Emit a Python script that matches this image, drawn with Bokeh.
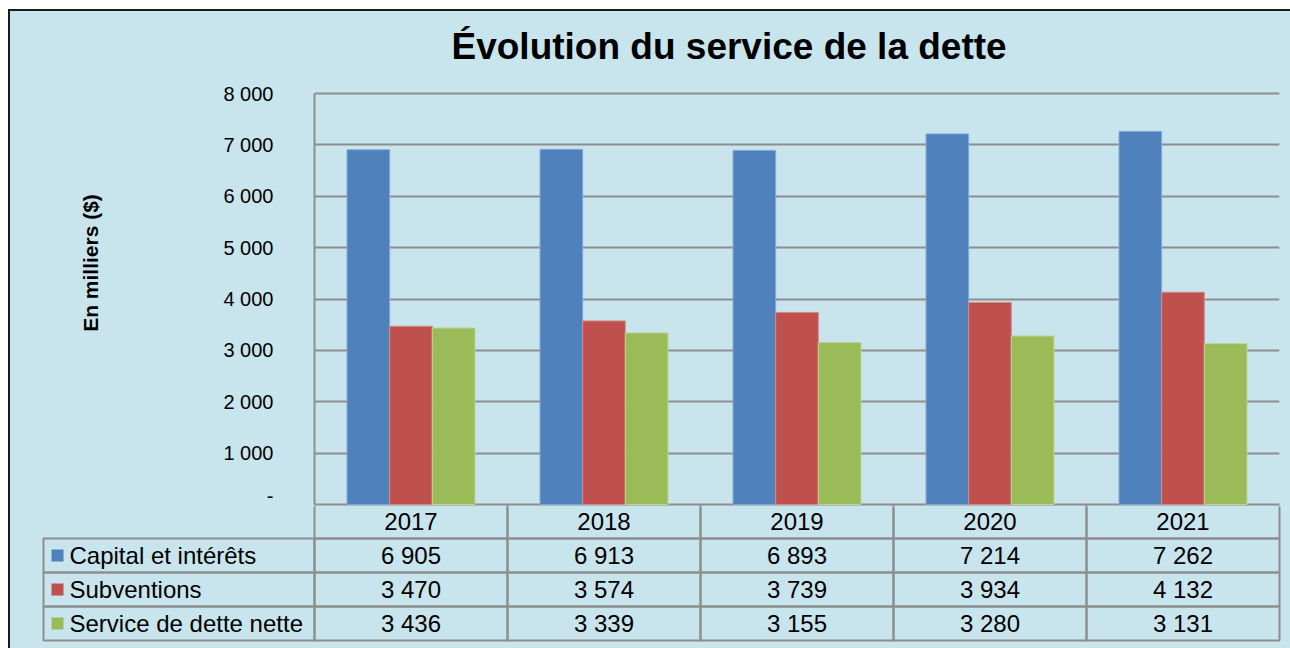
import math
from bokeh.plotting import figure
from bokeh.models import (ColumnDataSource, FactorRange, Range1d, FixedTicker)
from bokeh.transform import dodge
from bokeh.layouts import column, row
from bokeh.core.properties import value
from bokeh.embed import file_html
from bokeh.resources import INLINE

# ---------------- data ----------------
years = ["2017", "2018", "2019", "2020", "2021"]
series_names = ["Capital et intérêts", "Subventions", "Service de dette nette"]
capital_interets = [6905, 6913, 6893, 7214, 7262]
subventions = [3470, 3574, 3739, 3934, 4132]
service_net = [3436, 3339, 3155, 3280, 3131]
y_ticks = [0, 1000, 2000, 3000, 4000, 5000, 6000, 7000, 8000]
title_text = "Évolution du service de la dette"
y_label = "En milliers ($)"

# ---------------- style ----------------
BG = "#C8E5ED"
GRID = "#8E8E8E"
COLORS = ["#4F81BD", "#C0504D", "#9BBB59"]
EDGES = ["#86A8D3", "#D58B89", "#BDD394"]
FONT = "Liberation Sans"

def fmt(v):
    return f"{v:,}".replace(",", " ")

# ---------------- geometry ----------------
CW = 193.0            # px per category column
AXIS_PX = 411.0       # px between 0 and 8000
TOP = 60              # px above the plot frame (title room)
BOT = 2               # px of the frame kept below the zero line
TOP_H = 493 + BOT     # height of chart canvas
FRAME_PX = TOP_H - TOP
YMAX = max(y_ticks)
PXV = YMAX / AXIS_PX  # value per px
Y_START = -BOT * PXV
Y_END = Y_START + FRAME_PX * PXV
LW = 150              # width of the axis-title strip
ROW = 34.0            # table row height in px

# ---------------- chart ----------------
source = ColumnDataSource(dict(year=years, cap=capital_interets,
                               sub=subventions, net=service_net))

yr = Range1d(Y_START, Y_END)
p = figure(width=1280 - LW, height=TOP_H, x_range=FactorRange(*years),
           y_range=yr, output_backend="svg", toolbar_location=None,
           min_border_left=304 - LW, min_border_right=11,
           min_border_top=TOP, min_border_bottom=0)
p.frame_align = False
p.background_fill_color = BG
p.border_fill_color = BG
p.outline_line_color = None

bw = 0.221
for col, off, c, e in zip(["cap", "sub", "net"], [-bw, 0, bw], COLORS, EDGES):
    p.vbar(x=dodge("year", off, range=p.x_range), top=col, bottom=0, width=bw,
           source=source, fill_color=c, line_color=e, line_width=1)

# start of the table's column separators (header row) below the zero line
nb = len(years) + 1
p.segment(x0=list(range(nb)), y0=[0] * nb, x1=list(range(nb)),
          y1=[Y_START] * nb, line_color=GRID, line_width=2)

p.xaxis.visible = False
p.xgrid.grid_line_color = None
p.ygrid.grid_line_color = GRID
p.ygrid.grid_line_width = 2
p.yaxis.ticker = FixedTicker(ticks=y_ticks)
p.yaxis.bounds = (0, YMAX)
p.yaxis.major_label_overrides = {t: (fmt(t) if t else "-") for t in y_ticks}
p.yaxis.major_label_text_font = FONT
p.yaxis.major_label_text_font_size = "20px"
p.yaxis.major_label_text_color = "black"
p.yaxis.major_label_standoff = 41
p.yaxis.major_tick_out = 0
p.yaxis.major_tick_in = 0
p.yaxis.minor_tick_out = 0
p.yaxis.minor_tick_in = 0
p.yaxis.axis_line_color = GRID
p.yaxis.axis_line_width = 2

p.title.text = title_text
p.title.align = "left"
p.title.offset = 137
p.title.vertical_align = "bottom"
p.title.text_font = FONT
p.title.text_font_size = "37px"
p.title.text_font_style = "bold"
p.title.text_color = "black"
p.title.standoff = 10

# ---------------- axis-title strip ----------------
pl = figure(width=LW, height=TOP_H, x_range=Range1d(0, 1), y_range=yr,
            output_backend="svg", toolbar_location=None,
            min_border_left=0, min_border_right=0,
            min_border_top=TOP, min_border_bottom=0)
pl.frame_align = False
pl.background_fill_color = BG
pl.border_fill_color = BG
pl.outline_line_color = None
pl.axis.visible = False
pl.grid.visible = False
pl.text(x=[80 / LW], y=[241.5 * PXV], text=[y_label],
        angle=math.pi / 2, text_font=value(FONT), text_font_size="21px",
        text_font_style="bold", text_color="black",
        text_align="center", text_baseline="middle")

# ---------------- data table ----------------
T_H = 637 - TOP_H
t = figure(width=1280, height=T_H, output_backend="svg",
           toolbar_location=None,
           x_range=Range1d(-304 / CW, 976 / CW),
           y_range=Range1d(4 - BOT / ROW - T_H / ROW, 4 - BOT / ROW),
           min_border_left=0, min_border_right=0,
           min_border_top=0, min_border_bottom=0)
t.frame_align = False
t.background_fill_color = BG
t.border_fill_color = BG
t.outline_line_color = None
t.axis.visible = False
t.grid.visible = False

n = len(years)
left_edge = -271 / CW
# header cells (years)
t.quad(left=list(range(n)), right=[i + 1 for i in range(n)],
       bottom=[3] * n, top=[4] * n, fill_color=None,
       line_color=GRID, line_width=2)
# data cells
rows_vals = [capital_interets, subventions, service_net]
row_pos = [2, 1, 0]
qx0, qx1, qy0, qy1 = [], [], [], []
tx, ty, tt = [], [], []
for vals, r in zip(rows_vals, row_pos):
    qx0.append(left_edge); qx1.append(0); qy0.append(r); qy1.append(r + 1)
    for i, v in enumerate(vals):
        qx0.append(i); qx1.append(i + 1); qy0.append(r); qy1.append(r + 1)
        tx.append(i + 0.5); ty.append(r + 0.5); tt.append(fmt(v))
t.quad(left=qx0, right=qx1, bottom=qy0, top=qy1, fill_color=None,
       line_color=GRID, line_width=2)

t.text(x=[i + 0.5 for i in range(n)], y=[3.5] * n, text=years,
       text_font=value(FONT), text_font_size="24px", text_color="black",
       text_align="center", text_baseline="middle")
t.text(x=tx, y=ty, text=tt, text_font=value(FONT), text_font_size="24px",
       text_color="black", text_align="center", text_baseline="middle")

# legend keys + series names
mark_x = (57 - 314) / CW
name_x = (69 - 314) / CW
t.scatter(x=[mark_x] * 3, y=[r + 0.5 for r in row_pos], marker="square",
          size=12, fill_color=COLORS, line_color=None)
t.text(x=[name_x] * 3, y=[r + 0.5 for r in row_pos], text=series_names,
       text_font=value(FONT), text_font_size="24px", text_color="black",
       text_align="left", text_baseline="middle")

layout = column(row(pl, p, spacing=0), t, spacing=0,
                styles={"border-left": "2px solid #1a1a1a",
                        "border-top": "2px solid #1a1a1a",
                        "margin-left": "8px", "margin-top": "9px",
                        "background-color": BG})

open("out.html", "w").write(file_html(layout, INLINE))
